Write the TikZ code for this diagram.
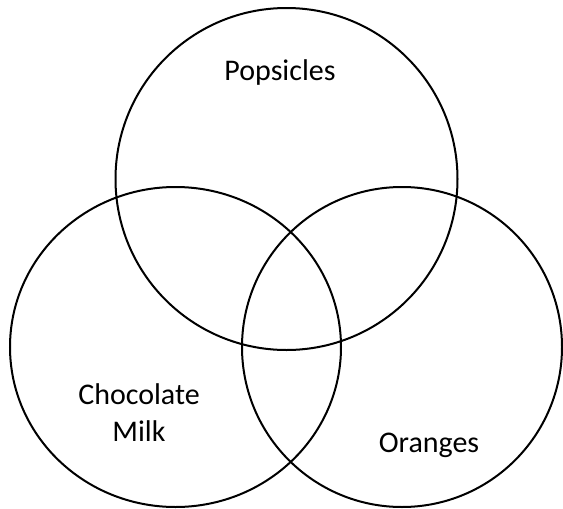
\documentclass[tikz,border=0pt]{standalone}
\usepackage{fontspec}
\setmainfont{Carlito}
\begin{document}
\begin{tikzpicture}[x=1pt,y=-1pt,
  setc/.style={draw=black,line width=2pt},
  lbl/.style={font=\fontsize{30}{37}\selectfont,align=center,inner sep=0pt}]
\useasboundingbox (0,0) rectangle (563,509);
\draw[setc] (286.5,179) circle [radius=171];
\draw[setc] (175.5,347) ellipse [x radius=165.5, y radius=160];
\draw[setc] (402,347) circle [radius=160];
\node[lbl] (pop) at (280,72) {Popsicles};
\node[lbl] (choc) at (139,413) {Chocolate\\Milk};
\node[lbl] (ora) at (429,445) {Oranges};
\end{tikzpicture}
\end{document}
